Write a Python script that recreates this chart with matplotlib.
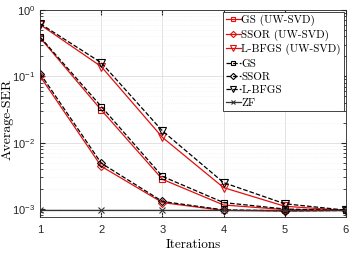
import matplotlib
matplotlib.use("Agg")
import matplotlib.pyplot as plt
from matplotlib.ticker import LogLocator, NullFormatter

# data
iterations = [1, 2, 3, 4, 5, 6]
gs_uw = [0.38, 0.031, 0.0028, 0.00115, 0.00098, 0.00095]
ssor_uw = [0.10, 0.0044, 0.00125, 0.00095, 0.00093, 0.00095]
lbfgs_uw = [0.60, 0.14, 0.012, 0.0021, 0.0011, 0.00095]
gs = [0.39, 0.035, 0.0031, 0.00125, 0.001, 0.00095]
ssor = [0.11, 0.0049, 0.0013, 0.00097, 0.00094, 0.00095]
lbfgs = [0.62, 0.16, 0.015, 0.0025, 0.0012, 0.00096]
zf = [0.00098, 0.00098, 0.00098, 0.00098, 0.00098, 0.00098]

plt.rcParams['axes.unicode_minus'] = False
plt.rcParams['font.family'] = ['Liberation Sans', 'DejaVu Sans']

fig = plt.figure(figsize=(3.49, 2.54), dpi=100)
ax = fig.add_axes([0.115, 0.146, 0.876, 0.815])

red = '#e01010'
sq = dict(lw=0.9, ms=4.5, mfc='none', mew=0.8)
dm = dict(lw=0.9, ms=4.2, mfc='none', mew=0.8)
tr = dict(lw=0.9, ms=6.0, mfc='none', mew=0.8)
ax.semilogy(iterations, gs_uw, '-s', color=red, label='GS (UW-SVD)', **sq)
ax.semilogy(iterations, ssor_uw, '-D', color=red, label='SSOR (UW-SVD)', **dm)
ax.semilogy(iterations, lbfgs_uw, '-v', color=red, label='L-BFGS (UW-SVD)', **tr)
ax.semilogy(iterations, gs, '--s', color='k', label='GS', **sq)
ax.semilogy(iterations, ssor, '--D', color='k', label='SSOR', **dm)
ax.semilogy(iterations, lbfgs, '--v', color='k', label='L-BFGS', **tr)
ax.semilogy(iterations, zf, '-x', color='#333333', label='ZF', lw=0.9, ms=4, mew=0.8)

ax.set_xlim(1, 6)
ax.set_ylim(7.6e-4, 1)
ax.set_xticks(iterations)
ax.yaxis.set_major_locator(LogLocator(base=10, numticks=10))
ax.yaxis.set_minor_locator(LogLocator(base=10, subs=range(2, 10), numticks=10))
ax.yaxis.set_minor_formatter(NullFormatter())

ax.grid(True, which='major', color='#dddddd', lw=0.6)
ax.grid(True, which='minor', color='#eeeeee', lw=0.5, ls=':')
ax.tick_params(which='both', direction='in', top=True, right=True, labelsize=8, colors='#262626')
ax.tick_params(axis='x', pad=6)
ax.tick_params(which='minor', length=2)
for s in ax.spines.values():
    s.set_color('#262626')
    s.set_linewidth(0.6)

ax.set_xlabel('Iterations', fontfamily='cmr10', fontsize=9.5)
ax.set_ylabel('Average-SER', fontfamily='cmr10', fontsize=10)
ax.xaxis.set_label_coords(0.5, -0.105)
ax.yaxis.set_label_coords(-0.088, 0.47)

leg = ax.legend(loc='upper right', prop={'family': 'cmr10', 'size': 8},
                fancybox=False, framealpha=1, edgecolor='#262626',
                handlelength=1.3, handletextpad=0.05, labelspacing=0.3,
                borderpad=0.3, borderaxespad=0.15, markerscale=0.75)
leg.get_frame().set_linewidth(0.6)

fig.savefig('out.png', dpi=100)
